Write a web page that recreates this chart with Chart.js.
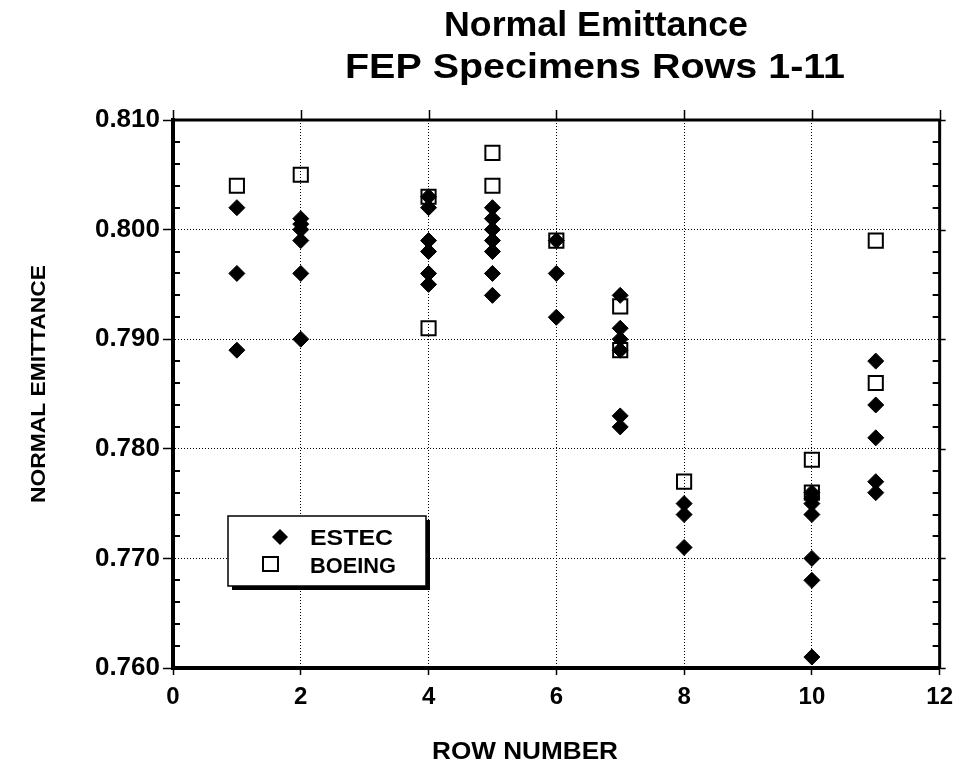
<!DOCTYPE html>
<html lang="en">
<head>
    <meta charset="UTF-8">
    <title>Normal Emittance FEP Specimens Rows 1-11</title>
    <script src="https://cdn.jsdelivr.net/npm/chart.js"></script>
    <style>
        body { margin: 0; background: #fff; }
        #wrap { width: 961px; height: 767px; position: relative; }
    </style>
</head>
<body>
    <div id="wrap">
        <canvas id="emittanceChart"></canvas>
    </div>
    <script>
    // values
    const estecRows   = [1, 1, 1,
                         2, 2, 2, 2, 2, 2,
                         4, 4, 4, 4, 4, 4,
                         5, 5, 5, 5, 5, 5, 5,
                         6, 6, 6,
                         7, 7, 7, 7, 7, 7,
                         8, 8, 8,
                         10, 10, 10, 10, 10, 10, 10,
                         11, 11, 11, 11, 11];
    const estecValues = [0.802, 0.796, 0.789,
                         0.801, 0.8005, 0.800, 0.799, 0.796, 0.790,
                         0.803, 0.802, 0.799, 0.798, 0.796, 0.795,
                         0.802, 0.801, 0.800, 0.799, 0.798, 0.796, 0.794,
                         0.799, 0.796, 0.792,
                         0.794, 0.791, 0.790, 0.789, 0.783, 0.782,
                         0.775, 0.774, 0.771,
                         0.776, 0.7755, 0.775, 0.774, 0.770, 0.768, 0.761,
                         0.788, 0.784, 0.781, 0.777, 0.776];
    const boeingRows   = [1, 2, 4, 4, 5, 5, 6, 7, 7, 8, 10, 10, 11, 11];
    const boeingValues = [0.804, 0.805, 0.803, 0.791, 0.807, 0.804, 0.799,
                          0.793, 0.789, 0.777, 0.779, 0.776, 0.799, 0.786];
    const xTicks = [0, 2, 4, 6, 8, 10, 12];
    const yTicks = [0.760, 0.770, 0.780, 0.790, 0.800, 0.810];
    const seriesNames = ['ESTEC', 'BOEING'];

    const FONT = '"Liberation Sans", Arial, Helvetica, sans-serif';

    function toPoints(xs, ys) {
        return xs.map((x, i) => ({ x: x, y: ys[i] }));
    }

    // draws text stretched sideways to a given width (the original face runs wide)
    function wideText(ctx, text, x, y, size, width, align) {
        ctx.save();
        ctx.font = 'bold ' + size + 'px ' + FONT;
        const w = ctx.measureText(text).width;
        const sx = width / w;
        ctx.translate(x, y);
        ctx.scale(sx, 1);
        ctx.textAlign = align || 'center';
        ctx.fillText(text, 0, 0);
        ctx.restore();
    }

    // title, axis titles, frame, minor ticks and the boxed legend
    const decor = {
        id: 'decor',
        afterDraw(chart) {
            const ctx = chart.ctx;
            const a = chart.chartArea;
            const xs = chart.scales.x, ys = chart.scales.y;
            ctx.save();
            ctx.fillStyle = '#000';
            ctx.strokeStyle = '#000';
            ctx.textBaseline = 'alphabetic';

            wideText(ctx, 'Normal Emittance', 596, 36, 35, 304);
            wideText(ctx, 'FEP Specimens Rows 1-11', 595, 78, 35, 500);
            wideText(ctx, 'ROW NUMBER', 525, 759, 24, 186);

            ctx.save();
            ctx.translate(45, 384);
            ctx.rotate(-Math.PI / 2);
            wideText(ctx, 'NORMAL EMITTANCE', 0, 0, 21, 238);
            ctx.restore();

            // top and right frame
            ctx.lineWidth = 3;
            ctx.beginPath();
            ctx.moveTo(a.left, a.top);
            ctx.lineTo(a.right, a.top);
            ctx.lineTo(a.right, a.bottom);
            ctx.stroke();

            // major ticks outside top and right
            ctx.lineWidth = 1.5;
            ctx.beginPath();
            xTicks.forEach(v => {
                const px = Math.round(xs.getPixelForValue(v)) + 0.5;
                ctx.moveTo(px, a.top);
                ctx.lineTo(px, a.top - 10);
            });
            yTicks.forEach(v => {
                const py = Math.round(ys.getPixelForValue(v)) + 0.5;
                ctx.moveTo(a.right, py);
                ctx.lineTo(a.right + 6, py);
            });
            ctx.stroke();

            // minor ticks on y, inside left and right
            ctx.lineWidth = 2;
            ctx.beginPath();
            for (let k = 0; k <= 25; k++) {
                if (k % 5 === 0) continue;
                const py = Math.round(ys.getPixelForValue(0.760 + k * 0.002));
                ctx.moveTo(a.left, py);
                ctx.lineTo(a.left + 7, py);
                ctx.moveTo(a.right, py);
                ctx.lineTo(a.right - 7, py);
            }
            ctx.stroke();

            // legend box with drop shadow
            const bx = 228, by = 516, bw = 198, bh = 70;
            ctx.fillRect(bx + 4, by + 4, bw, bh);
            ctx.fillStyle = '#fff';
            ctx.fillRect(bx, by, bw, bh);
            ctx.lineWidth = 1.5;
            ctx.strokeRect(bx, by, bw, bh);

            ctx.fillStyle = '#000';
            const dx = 280, dy = 537, r = 8;
            ctx.beginPath();
            ctx.moveTo(dx, dy - r);
            ctx.lineTo(dx + r, dy);
            ctx.lineTo(dx, dy + r);
            ctx.lineTo(dx - r, dy);
            ctx.closePath();
            ctx.fill();
            ctx.lineWidth = 2;
            ctx.strokeRect(263, 557, 15, 14);

            wideText(ctx, seriesNames[0], 310, 545, 22, 83, 'left');
            wideText(ctx, seriesNames[1], 310, 573, 22, 86, 'left');
            ctx.restore();
        }
    };

    document.addEventListener('DOMContentLoaded', function () {
        const ctx = document.getElementById('emittanceChart').getContext('2d');
        new Chart(ctx, {
            type: 'scatter',
            data: {
                datasets: [{
                    label: seriesNames[0],
                    data: toPoints(estecRows, estecValues),
                    pointStyle: 'rectRot',
                    pointRadius: 8,
                    pointHoverRadius: 8,
                    backgroundColor: '#000',
                    borderColor: '#000',
                    borderWidth: 1
                }, {
                    label: seriesNames[1],
                    data: toPoints(boeingRows, boeingValues),
                    pointStyle: 'rect',
                    pointRadius: 10,
                    pointHoverRadius: 10,
                    backgroundColor: 'rgba(255,255,255,0)',
                    borderColor: '#000',
                    borderWidth: 2
                }]
            },
            options: {
                responsive: true,
                maintainAspectRatio: false,
                animation: false,
                layout: { padding: { left: 0, right: 18, top: 120, bottom: 0 } },
                plugins: {
                    legend: { display: false },
                    tooltip: { enabled: false }
                },
                scales: {
                    x: {
                        type: 'linear',
                        min: 0,
                        max: 12,
                        afterBuildTicks: s => { s.ticks = xTicks.map(v => ({ value: v })); },
                        afterFit: s => { s.height = 99; },
                        border: { display: true, width: 4, color: '#000', dash: [1, 2] },
                        grid: {
                            color: '#000',
                            lineWidth: 1,
                            tickBorderDash: [],
                            tickLength: 7,
                            tickColor: '#000',
                            tickWidth: 1.5
                        },
                        ticks: {
                            color: '#000',
                            padding: 8,
                            font: { family: FONT, weight: 'bold', size: 24 },
                            maxRotation: 0
                        }
                    },
                    y: {
                        type: 'linear',
                        min: 0.760,
                        max: 0.810,
                        afterBuildTicks: s => { s.ticks = yTicks.map(v => ({ value: v })); },
                        afterFit: s => { s.width = 173; },
                        border: { display: true, width: 4, color: '#000', dash: [1, 2] },
                        grid: {
                            color: '#000',
                            lineWidth: 1,
                            tickBorderDash: [],
                            tickLength: 10,
                            tickColor: '#000',
                            tickWidth: 1.5
                        },
                        ticks: {
                            color: '#000',
                            padding: 3,
                            font: { family: FONT, weight: 'bold', size: 26 },
                            callback: v => v.toFixed(3)
                        }
                    }
                }
            },
            plugins: [decor]
        });
    });
    </script>
</body>
</html>
